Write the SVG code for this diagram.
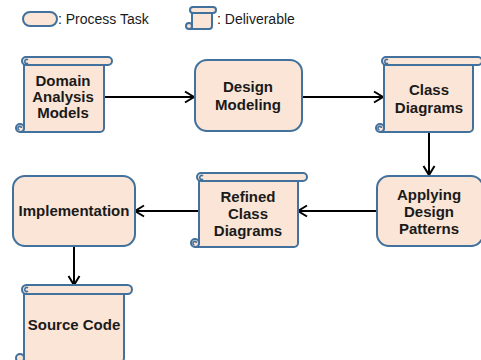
<svg xmlns="http://www.w3.org/2000/svg" width="481" height="360" viewBox="0 0 481 360">
<style>
.shape{fill:#FBE5D6;stroke:#41719C;stroke-width:2;stroke-linejoin:round}
.curl{fill:none;stroke:#41719C;stroke-width:1.6}
.lbl{font-family:"Liberation Sans",Arial,sans-serif;font-weight:bold;font-size:15px;fill:#1a1a1a;text-anchor:middle}
.leg{font-family:"Liberation Sans",Arial,sans-serif;font-size:14px;fill:#1a1a1a}
.conn{stroke:#000;stroke-width:2;fill:none}
</style>
<defs>
<marker id="arr" markerUnits="userSpaceOnUse" markerWidth="14" markerHeight="14" viewBox="0 0 14 14" refX="12" refY="7" orient="auto">
<path d="M3,1.5 L12,7 L3,12.5" fill="none" stroke="#000" stroke-width="2"/>
</marker>
</defs>
<rect x="0" y="0" width="481" height="360" fill="#fff"/>

<g id="legend">
<rect class="shape" x="23" y="12" width="34" height="14" rx="7"/>
<text class="leg" x="58" y="24">: Process Task</text>
<path class="shape" d="M192,10 V26 A3 3 0 0 1 189,29 H209 A3 3 0 0 0 212,26 V10 Z"/>
<circle class="shape" cx="189" cy="26" r="3" stroke-width="1.6"/>
<rect class="shape" x="190" y="7" width="26" height="6" rx="3" stroke-width="1.6"/>
<text class="leg" x="217" y="24">: Deliverable</text>
</g>

<g id="connectors">
<line class="conn" x1="104" y1="97" x2="194" y2="97" marker-end="url(#arr)"/>
<line class="conn" x1="302" y1="97" x2="383" y2="97" marker-end="url(#arr)"/>
<line class="conn" x1="429" y1="133" x2="429" y2="175" marker-end="url(#arr)"/>
<line class="conn" x1="377" y1="211" x2="298" y2="211" marker-end="url(#arr)"/>
<line class="conn" x1="198" y1="211" x2="135" y2="211" marker-end="url(#arr)"/>
<line class="conn" x1="74" y1="247" x2="74" y2="285" marker-end="url(#arr)"/>
</g>

<g id="domain">
<path class="shape" d="M24,61 V128 A4 4 0 0 1 20,132 H100 A4 4 0 0 0 104,128 V61 Z"/>
<circle class="shape" cx="20" cy="128" r="4"/>
<path class="curl" d="M21.5,128 A1.8 1.8 0 1 0 19.5,130"/>
<rect class="shape" x="22" y="57" width="90" height="8" rx="4"/>
<path class="curl" d="M28,60 A2 2 0 1 0 28,63"/>
<text class="lbl" x="63" y="86">Domain</text>
<text class="lbl" x="63" y="102">Analysis</text>
<text class="lbl" x="63" y="118">Models</text>
</g>

<g id="design-modeling">
<rect class="shape" x="195" y="60" width="107" height="71" rx="12"/>
<text class="lbl" x="248" y="92">Design</text>
<text class="lbl" x="248" y="110">Modeling</text>
</g>

<g id="class-diagrams">
<path class="shape" d="M384,61 V128 A4 4 0 0 1 380,132 H469 A4 4 0 0 0 473,128 V61 Z"/>
<circle class="shape" cx="380" cy="128" r="4"/>
<path class="curl" d="M381.5,128 A1.8 1.8 0 1 0 379.5,130"/>
<rect class="shape" x="382" y="57" width="100" height="8" rx="4"/>
<path class="curl" d="M388,60 A2 2 0 1 0 388,63"/>
<text class="lbl" x="429" y="95">Class</text>
<text class="lbl" x="429" y="113">Diagrams</text>
</g>

<g id="applying">
<rect class="shape" x="377" y="176" width="106" height="70" rx="12"/>
<text class="lbl" x="429" y="200">Applying</text>
<text class="lbl" x="429" y="217">Design</text>
<text class="lbl" x="429" y="234">Patterns</text>
</g>

<g id="refined">
<path class="shape" d="M199,177 V243 A4 4 0 0 1 195,247 H294 A4 4 0 0 0 298,243 V177 Z"/>
<circle class="shape" cx="195" cy="243" r="4"/>
<path class="curl" d="M196.5,243 A1.8 1.8 0 1 0 194.5,245"/>
<rect class="shape" x="197" y="173" width="110" height="8" rx="4"/>
<path class="curl" d="M203,176 A2 2 0 1 0 203,179"/>
<text class="lbl" x="248" y="202">Refined</text>
<text class="lbl" x="248" y="219">Class</text>
<text class="lbl" x="248" y="236">Diagrams</text>
</g>

<g id="implementation">
<rect class="shape" x="13" y="176" width="122" height="70" rx="12"/>
<text class="lbl" x="74" y="216">Implementation</text>
</g>

<g id="source-code">
<path class="shape" d="M24,289 V358 A4 4 0 0 1 20,362 H120 A4 4 0 0 0 124,358 V289 Z"/>
<circle class="shape" cx="20" cy="358" r="4"/>
<rect class="shape" x="22" y="285" width="110" height="9" rx="4.5"/>
<path class="curl" d="M28,288 A2 2 0 1 0 28,291"/>
<text class="lbl" x="74" y="330">Source Code</text>
</g>
</svg>
